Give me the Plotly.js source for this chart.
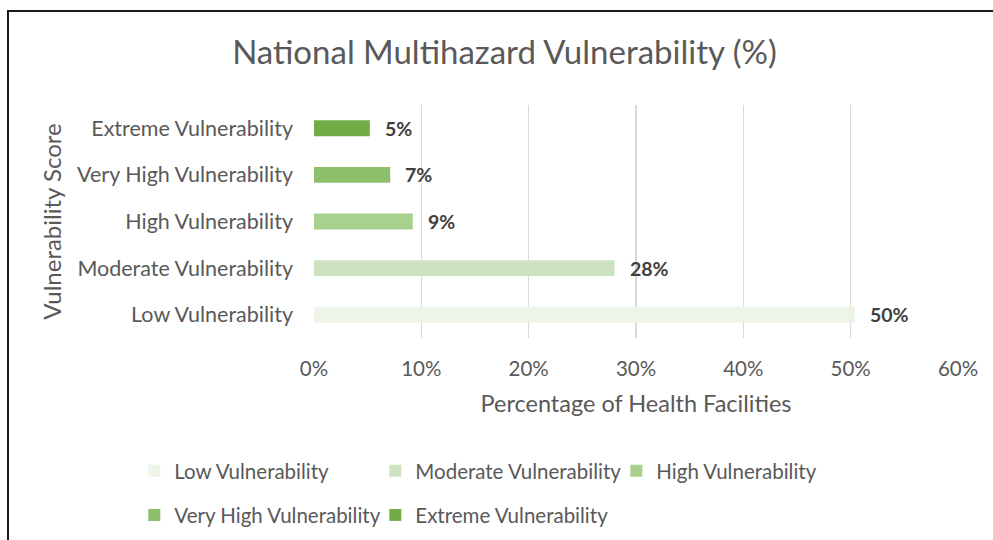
<!DOCTYPE html>
<html>
<head>
<meta charset="utf-8">
<script src="https://cdn.plot.ly/plotly-3.0.1.min.js"></script>
<style>
  html, body { margin: 0; padding: 0; background: #fff; }
  #chart { width: 993px; height: 540px; }
  #frame { position: absolute; left: 7px; top: 10px; width: 1000px; height: 600px;
           border-left: 2px solid #1a1a1a; border-top: 2px solid #1a1a1a; pointer-events: none; }
</style>
</head>
<body>
<div id="chart"></div>
<div id="frame"></div>
<script>
const categories = ["Low Vulnerability", "Moderate Vulnerability", "High Vulnerability", "Very High Vulnerability", "Extreme Vulnerability"];
const values = [0.504, 0.28, 0.092, 0.071, 0.052];
const labels = ["50%", "28%", "9%", "7%", "5%"];
const colors = ["#EDF4E8", "#CDE3C0", "#A9D18E", "#8DBF6C", "#70AD47"];
const xTicks = [0, 0.1, 0.2, 0.3, 0.4, 0.5, 0.6];
const xTickText = ["0%", "10%", "20%", "30%", "40%", "50%", "60%"];

const FONT = "Lato, 'Open Sans', sans-serif";
const traces = categories.map((c, i) => ({
  type: "bar",
  orientation: "h",
  name: c,
  y: [c],
  x: [values[i]],
  width: 0.342,
  marker: { color: colors[i] },
  hoverinfo: "skip",
  legend: i < 3 ? "legend" : "legend2"
}));

const annotations = categories.map((c, i) => ({
  x: values[i], y: c, xref: "x", yref: "y",
  text: labels[i], showarrow: false, xanchor: "left", xshift: 13,
  font: { family: FONT, size: 19.5, color: "#404040", weight: "bold" }
}));

const legFont = { family: FONT, size: 20.5, color: "#595959" };

const layout = {
  width: 993, height: 540,
  margin: { l: 314, r: 35, t: 105, b: 202, autoexpand: false },
  paper_bgcolor: "#fff", plot_bgcolor: "#fff",
  font: { family: FONT, color: "#595959" },
  barmode: "overlay",
  title: { text: "National Multihazard Vulnerability (%)", x: 0.508, xanchor: "center", y: 0.903, yanchor: "middle",
           font: { family: FONT, size: 33, color: "#595959" } },
  xaxis: {
    range: [0, 0.6], tickvals: xTicks, ticktext: xTickText,
    showgrid: true, gridcolor: "#D9D9D9", gridwidth: 1.5, zeroline: false,
    showline: false, ticks: "", ticklabelstandoff: 16,
    tickfont: { family: FONT, size: 20.5, color: "#595959" },
    title: { text: "Percentage of Health Facilities", standoff: 17, font: { family: FONT, size: 23.5, color: "#595959" } }
  },
  yaxis: {
    type: "category", categoryorder: "array", categoryarray: categories,
    range: [-0.5, 4.5],
    showgrid: false, zeroline: false, showline: false, ticks: "", ticklabelstandoff: 20,
    tickfont: { family: FONT, size: 21.5, color: "#595959" },
    title: { text: "Vulnerability Score", standoff: 8, font: { family: FONT, size: 24, color: "#595959" } }
  },
  legend: {
    orientation: "h", x: -0.279, xanchor: "left", y: -0.571, yanchor: "middle",
    entrywidth: 196, font: legFont, traceorder: "normal"
  },
  legend2: {
    orientation: "h", x: -0.279, xanchor: "left", y: -0.76, yanchor: "middle",
    entrywidth: 196, font: legFont, traceorder: "normal"
  },
  annotations: annotations,
  showlegend: true
};

Plotly.newPlot("chart", traces, layout, { displayModeBar: false, staticPlot: true });
</script>
</body>
</html>
